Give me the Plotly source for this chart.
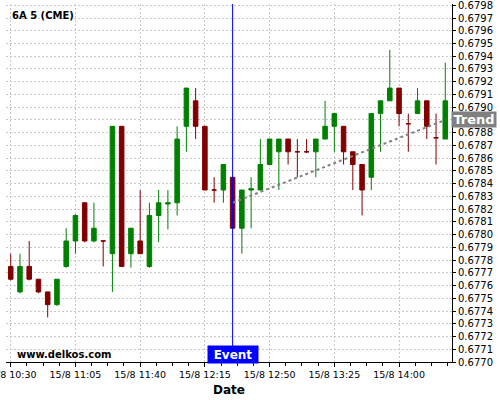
import pandas as pd
import plotly.graph_objects as go

# 5 minute bars, 15/8 10:30 .. 14:25
times = pd.date_range("2019-08-15 10:30", periods=48, freq="5min")

opens = [0.67775, 0.67755, 0.67775, 0.67765, 0.67755, 0.67745, 0.67775, 0.67795,
         0.67825, 0.67795, 0.67795, 0.67785, 0.67885, 0.67785, 0.67795, 0.67775,
         0.67815, 0.67824, 0.67825, 0.67885, 0.67905, 0.67885, 0.67835, 0.67835,
         0.67845, 0.67805, 0.67835, 0.67835, 0.67855, 0.67865, 0.67875, 0.67865,
         0.67865, 0.67865, 0.67875, 0.67885, 0.67885, 0.67865, 0.67855, 0.67845,
         0.67895, 0.67905, 0.67915, 0.67887, 0.67895, 0.67905, 0.67876, 0.67875]
highs = [0.67785, 0.67785, 0.67795, 0.67765, 0.67755, 0.67765, 0.67805, 0.67816,
         0.67825, 0.67825, 0.67795, 0.67885, 0.67885, 0.67805, 0.67835, 0.67825,
         0.67835, 0.67835, 0.67885, 0.67915, 0.67915, 0.67885, 0.67845, 0.67855,
         0.67845, 0.67835, 0.67845, 0.67875, 0.67875, 0.67875, 0.67875, 0.67875,
         0.67875, 0.67875, 0.67905, 0.67895, 0.67885, 0.67865, 0.67855, 0.67895,
         0.67905, 0.67945, 0.67915, 0.67895, 0.67915, 0.67905, 0.67895, 0.67935]
lows = [0.67764, 0.67754, 0.67764, 0.67754, 0.67735, 0.67744, 0.67774, 0.67785,
        0.67794, 0.67794, 0.67775, 0.67755, 0.67775, 0.67774, 0.67785, 0.67774,
        0.67794, 0.67804, 0.67815, 0.67865, 0.67875, 0.67835, 0.67825, 0.67825,
        0.67805, 0.67785, 0.67805, 0.67835, 0.67855, 0.67835, 0.67855, 0.67845,
        0.67864, 0.67845, 0.67875, 0.67865, 0.67855, 0.67835, 0.67815, 0.67835,
        0.67865, 0.67905, 0.67885, 0.67865, 0.67895, 0.67875, 0.67855, 0.67875]
closes = [0.67765, 0.67775, 0.67765, 0.67755, 0.67745, 0.67765, 0.67795, 0.67815,
          0.67795, 0.67805, 0.67795, 0.67885, 0.67775, 0.67805, 0.67785, 0.67815,
          0.67825, 0.67825, 0.67875, 0.67915, 0.67885, 0.67835, 0.67835, 0.67855,
          0.67805, 0.67835, 0.67836, 0.67855, 0.67875, 0.67875, 0.67865, 0.67865,
          0.67865, 0.67875, 0.67885, 0.67895, 0.67865, 0.67855, 0.67835, 0.67895,
          0.67905, 0.67915, 0.67895, 0.67887, 0.67905, 0.67885, 0.67876, 0.67905]

event_idx = 24
trend_x = [times[event_idx], times[-1]]
trend_y = [0.67825, 0.67890]

fig = go.Figure()

fig.add_trace(go.Candlestick(
    x=times, open=opens, high=highs, low=lows, close=closes,
    increasing=dict(line=dict(color="#008000", width=1), fillcolor="#008000"),
    decreasing=dict(line=dict(color="#800000", width=1), fillcolor="#800000"),
    whiskerwidth=0, hoverinfo="skip", showlegend=False,
))

# trend line
fig.add_trace(go.Scatter(
    x=trend_x, y=trend_y, mode="lines",
    line=dict(color="#808080", width=2, dash="dot"),
    hoverinfo="skip", showlegend=False,
))

# event marker
fig.add_shape(type="line", x0=times[event_idx], x1=times[event_idx],
              yref="paper", y0=0, y1=1, line=dict(color="#0000ff", width=1))

fig.add_annotation(x=times[event_idx], y=0, yref="paper", yanchor="bottom", yshift=-2,
                   text="<b>Event</b>", showarrow=False, bgcolor="#0000ff",
                   font=dict(family="DejaVu Sans", size=12, color="white"),
                   width=48, height=15, borderpad=1)

fig.add_annotation(x=1, xref="paper", xanchor="left", xshift=-1, y=0.6789, yanchor="middle",
                   text="<b>Trend</b>", showarrow=False, bgcolor="#808080",
                   font=dict(family="DejaVu Sans", size=13, color="white"),
                   width=42, height=13, borderpad=1)

fig.add_annotation(x=0.009, xref="paper", xanchor="left", y=0.969, yref="paper", yanchor="middle",
                   text="<b>6A 5 (CME)</b>", showarrow=False,
                   font=dict(family="DejaVu Sans", size=10, color="black"))

fig.add_annotation(x=0.02, xref="paper", xanchor="left", y=0.022, yref="paper", yanchor="middle",
                   text="<b>www.delkos.com</b>", showarrow=False,
                   font=dict(family="DejaVu Sans", size=10, color="black"))

fig.add_annotation(x=0.5, xref="paper", xanchor="center", y=-0.078, yref="paper", yanchor="middle",
                   text="<b>Date</b>", showarrow=False,
                   font=dict(family="DejaVu Sans", size=12, color="black"))

grid = dict(showgrid=True, gridcolor="#c8c8c8", griddash="2px,2px", gridwidth=1)

fig.update_layout(
    width=500, height=400,
    margin=dict(l=6, r=48, t=4, b=38, autoexpand=False),
    paper_bgcolor="white", plot_bgcolor="white",
    font=dict(family="DejaVu Sans", color="black"),
    showlegend=False,
    xaxis=dict(
        type="date", automargin=False,
        range=["2019-08-15 10:27:27", "2019-08-15 14:28:38"],
        rangeslider=dict(visible=False),
        tick0="2019-08-15 10:30", dtick=2100000,
        tickformat="%-d/%-m %H:%M",
        tickfont=dict(size=9.5),
        ticklabeloverflow="allow",
        ticks="outside", ticklen=4, tickcolor="black",
        minor=dict(dtick=525000, tick0="2019-08-15 10:30", ticks="outside",
                   ticklen=3, tickcolor="black", showgrid=False),
        showline=True, linecolor="black", linewidth=1,
        zeroline=False, **grid,
    ),
    yaxis=dict(
        side="right", automargin=False,
        range=[0.6770, 0.67981],
        tick0=0.677, dtick=0.0001, tickformat=".4f",
        tickfont=dict(size=10),
        ticklabeloverflow="allow",
        ticks="outside", ticklen=3, tickcolor="black",
        showline=True, linecolor="black", linewidth=1,
        zeroline=False, **grid,
    ),
)

# drop the default page margin so the chart sits at the window's corner
fig.write_html("out.html", config={"displayModeBar": False},
               post_script="document.body.style.margin='0';")
